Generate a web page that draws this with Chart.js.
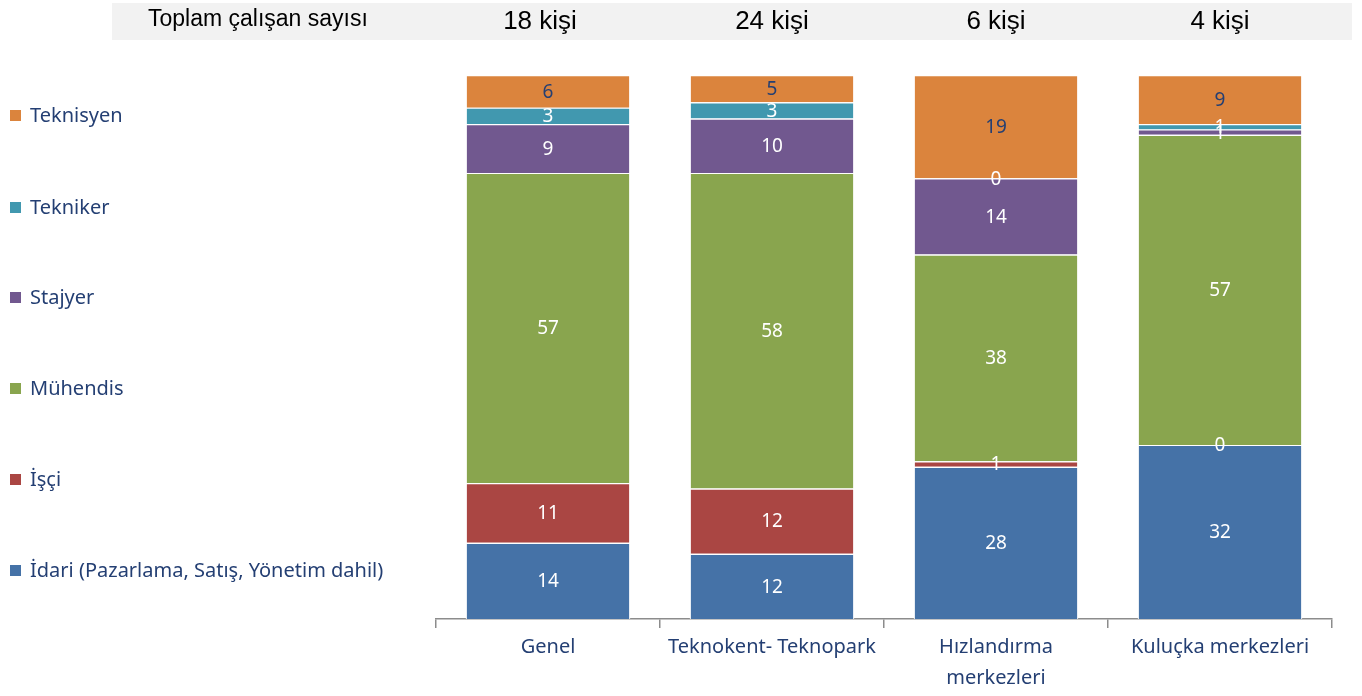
<!DOCTYPE html>
<html>
<head>
<meta charset="utf-8">
<script src="https://cdn.jsdelivr.net/npm/chart.js@4"></script>
<style>
  html, body { margin: 0; padding: 0; background: #fff; }
  canvas { display: block; }
</style>
</head>
<body>
<canvas id="chart" width="1362" height="696"></canvas>
<script>
// categories and totals
const categories = ['Genel', 'Teknokent- Teknopark', ['Hızlandırma', 'merkezleri'], 'Kuluçka merkezleri'];
const totalLabel = 'Toplam çalışan sayısı';
const totals = ['18 kişi', '24 kişi', '6 kişi', '4 kişi'];

// share per role (%), bottom to top
const idari = [14, 12, 28, 32];
const isci = [11, 12, 1, 0];
const muhendis = [57, 58, 38, 57];
const stajyer = [9, 10, 14, 1];
const tekniker = [3, 3, 0, 1];
const teknisyen = [6, 5, 19, 9];

const NAVY = '#243f73';

const series = [
  { label: 'İdari (Pazarlama, Satış, Yönetim dahil)', data: idari, color: '#4572a7', text: '#fff' },
  { label: 'İşçi', data: isci, color: '#aa4643', text: '#fff' },
  { label: 'Mühendis', data: muhendis, color: '#89a54e', text: '#fff' },
  { label: 'Stajyer', data: stajyer, color: '#71588f', text: '#fff' },
  { label: 'Tekniker', data: tekniker, color: '#4198af', text: '#fff' },
  { label: 'Teknisyen', data: teknisyen, color: '#db843d', text: NAVY },
];

// header band with totals
const headerPlugin = {
  id: 'header',
  beforeDraw(chart) {
    const ctx = chart.ctx;
    const x = chart.scales.x;
    ctx.save();
    ctx.fillStyle = '#f2f2f2';
    ctx.fillRect(112, 3, 1240, 37);
    ctx.fillStyle = '#000';
    ctx.textBaseline = 'middle';
    ctx.font = '23px "Liberation Sans", Arial, sans-serif';
    ctx.textAlign = 'left';
    ctx.fillText(totalLabel, 148, 20);
    ctx.font = '26px "Liberation Sans", Arial, sans-serif';
    ctx.textAlign = 'center';
    totals.forEach((t, i) => ctx.fillText(t, x.getPixelForValue(i) - (i === 0 ? 8 : 0), 22));
    ctx.restore();
  }
};

// legend on the left, top item = last series
const sideLegend = {
  id: 'sideLegend',
  afterDraw(chart) {
    const ctx = chart.ctx;
    ctx.save();
    ctx.font = '20px "Noto Sans", sans-serif';
    ctx.textBaseline = 'middle';
    ctx.textAlign = 'left';
    const ys = [115, 207, 297, 388, 479, 570];
    series.slice().reverse().forEach((s, k) => {
      ctx.fillStyle = s.color;
      ctx.fillRect(10, ys[k] - 5, 11, 11);
      ctx.fillStyle = NAVY;
      ctx.fillText(s.label, 30, ys[k] + 1);
    });
    ctx.restore();
  }
};

// value labels in the middle of each segment
const valueLabels = {
  id: 'valueLabels',
  afterDatasetsDraw(chart) {
    const ctx = chart.ctx;
    ctx.save();
    ctx.font = '19px "Noto Sans", sans-serif';
    ctx.textAlign = 'center';
    ctx.textBaseline = 'middle';
    chart.data.datasets.forEach((ds, i) => {
      chart.getDatasetMeta(i).data.forEach((bar, j) => {
        ctx.fillStyle = series[i].text;
        ctx.fillText(String(ds.data[j]), bar.x, (bar.y + bar.base) / 2 + 1);
      });
    });
    ctx.restore();
  }
};

new Chart(document.getElementById('chart'), {
  type: 'bar',
  data: {
    labels: categories,
    datasets: series.map(s => ({
      label: s.label,
      data: s.data,
      backgroundColor: s.color,
      borderColor: '#fff',
      borderWidth: 1.2,
      categoryPercentage: 1,
      barPercentage: 0.735
    }))
  },
  options: {
    responsive: false,
    animation: false,
    devicePixelRatio: 1,
    layout: { padding: { left: 436, right: 30, top: 75, bottom: 4 } },
    plugins: { legend: { display: false }, tooltip: { enabled: false } },
    scales: {
      y: { stacked: true, min: 0, max: 100, display: false },
      x: {
        stacked: true,
        afterFit(scale) { scale.height -= 6; },
        grid: { offset: true, drawOnChartArea: false, tickLength: 9, color: '#8c8c8c', lineWidth: 1.5 },
        border: { color: '#8c8c8c', width: 1.5 },
        ticks: { color: NAVY, padding: 4, font: { family: 'Noto Sans', size: 20, lineHeight: 1.55 } }
      }
    }
  },
  plugins: [headerPlugin, sideLegend, valueLabels]
});
</script>
</body>
</html>
